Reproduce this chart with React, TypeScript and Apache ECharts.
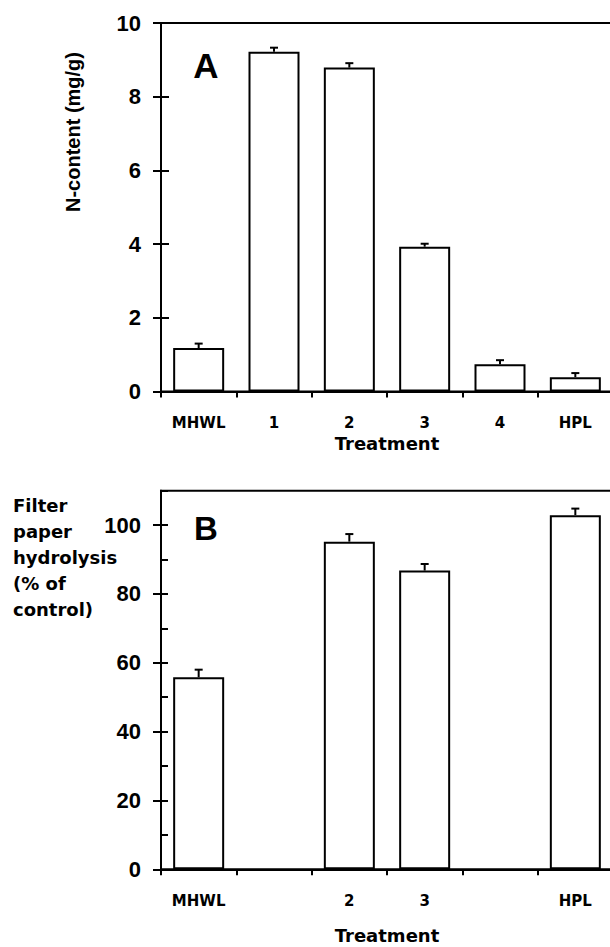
import React, { useEffect, useRef } from "react";
import * as echarts from "echarts";

const categories = ["MHWL", "1", "2", "3", "4", "HPL"];
const nContent = [1.18, 9.22, 8.79, 3.93, 0.74, 0.39];
const nContentErr = [0.12, 0.11, 0.12, 0.08, 0.11, 0.11];
const hydrolysis: (number | null)[] = [55.8, null, 95.2, 86.8, null, 102.9];
const hydrolysisErr: (number | null)[] = [2.2, null, 2.2, 1.9, null, 1.9];
const aTicks = [0, 2, 4, 6, 8, 10];
const bMajorTicks = [0, 20, 40, 60, 80, 100];

const labelFont = "DejaVu Sans";
const numFont = "Liberation Sans";

function errData(vals: (number | null)[], errs: (number | null)[]) {
  const out: number[][] = [];
  vals.forEach((v, i) => {
    if (v != null && errs[i] != null) out.push([i, v, errs[i] as number]);
  });
  return out;
}

const renderErr = (params: any, api: any) => {
  const i = api.value(0);
  const v = api.value(1);
  const e = api.value(2);
  const base = api.coord([i, v]);
  const top = api.coord([i, v + e]);
  return {
    type: "group",
    children: [
      { type: "line", shape: { x1: base[0], y1: base[1], x2: base[0], y2: top[1] }, style: { stroke: "#000", lineWidth: 2 } },
      { type: "line", shape: { x1: base[0] - 4, y1: top[1], x2: base[0] + 4, y2: top[1] }, style: { stroke: "#000", lineWidth: 2 } },
    ],
  };
};

export default function App() {
  const ref = useRef<HTMLDivElement>(null);
  useEffect(() => {
    if (!ref.current) return;
    const chart = echarts.init(ref.current, null, { renderer: "svg" });
    const axisLine = { show: true, lineStyle: { color: "#000", width: 2 } };
    const xLabel = { fontFamily: labelFont, fontWeight: "bold", fontSize: 15, lineHeight: 14, color: "#000", margin: 24 };
    const xName = { fontFamily: labelFont, fontWeight: "bold", fontSize: 18, lineHeight: 16, color: "#000" };
    const yLabel = { fontFamily: numFont, fontWeight: "bold", fontSize: 22, color: "#000", margin: 20 };
    const gridBase = { left: 161, width: 452, show: true, borderColor: "#000", borderWidth: 2, backgroundColor: "transparent", containLabel: false, outerBoundsMode: "none" };
    chart.setOption({
      animation: false,
      grid: [
        { ...gridBase, top: 23, height: 368.5 },
        { ...gridBase, top: 490.7, height: 378.6 },
      ],
      xAxis: [
        {
          gridIndex: 0, type: "category", data: categories, axisLine,
          axisTick: { show: true, length: 6, lineStyle: { color: "#000", width: 2 } },
          axisLabel: xLabel,
          name: "Treatment", nameLocation: "middle", nameGap: 44, nameTextStyle: xName,
        },
        {
          gridIndex: 1, type: "category", data: categories, axisLine,
          axisTick: { show: true, length: 6, lineStyle: { color: "#000", width: 2 } },
          axisLabel: { ...xLabel, margin: 25, formatter: (v: string, i: number) => (hydrolysis[i] == null ? "" : v) },
          name: "Treatment", nameLocation: "middle", nameGap: 58, nameTextStyle: xName,
        },
      ],
      yAxis: [
        {
          gridIndex: 0, type: "value", min: 0, max: 10, interval: 2, position: "left", offset: 0,
          axisLine, splitLine: { show: false },
          axisTick: { show: true, length: 8, lineStyle: { color: "#000", width: 2 }, customValues: aTicks },
          axisLabel: { ...yLabel, customValues: aTicks },
        },
        {
          gridIndex: 0, type: "value", min: 0, max: 10, interval: 2, position: "left", offset: 0,
          axisLine, splitLine: { show: false },
          axisTick: { show: true, inside: true, length: 8, lineStyle: { color: "#000", width: 2 } },
          axisLabel: { show: false },
        },
        {
          gridIndex: 1, type: "value", min: 0, max: 110, interval: 10, position: "left", offset: 0,
          axisLine, splitLine: { show: false },
          axisTick: { show: true, length: 8, lineStyle: { color: "#000", width: 2 }, customValues: bMajorTicks },
          axisLabel: { ...yLabel, customValues: bMajorTicks },
        },
        {
          gridIndex: 1, type: "value", min: 0, max: 110, interval: 10, position: "left", offset: 0,
          axisLine, splitLine: { show: false },
          axisTick: { show: true, inside: true, length: 7, lineStyle: { color: "#000", width: 2 } },
          axisLabel: { show: false },
        },
      ],
      series: [
        {
          type: "bar", xAxisIndex: 0, yAxisIndex: 0, data: nContent, barWidth: 51,
          itemStyle: { color: "#fff", borderColor: "#000", borderWidth: 2 },
        },
        {
          type: "custom", xAxisIndex: 0, yAxisIndex: 0, data: errData(nContent, nContentErr),
          encode: { x: 0, y: 1 }, renderItem: renderErr, z: 5,
        },
        {
          type: "bar", xAxisIndex: 1, yAxisIndex: 2, data: hydrolysis, barWidth: 51,
          itemStyle: { color: "#fff", borderColor: "#000", borderWidth: 2 },
        },
        {
          type: "custom", xAxisIndex: 1, yAxisIndex: 2, data: errData(hydrolysis, hydrolysisErr),
          encode: { x: 0, y: 1 }, renderItem: renderErr, z: 5,
        },
      ],
      graphic: [
        {
          type: "text", x: 206, y: 65,
          style: { text: "A", fontFamily: numFont, fontWeight: "bold", fontSize: 35, fill: "#000", textAlign: "center", textVerticalAlign: "middle" },
        },
        {
          type: "text", x: 206, y: 528,
          style: { text: "B", fontFamily: numFont, fontWeight: "bold", fontSize: 33, fill: "#000", textAlign: "center", textVerticalAlign: "middle" },
        },
        {
          type: "text", x: 73, y: 132, rotation: Math.PI / 2,
          style: { text: "N-content (mg/g)", fontFamily: numFont, fontWeight: "bold", fontSize: 20, fill: "#000", textAlign: "center", textVerticalAlign: "middle" },
        },
        {
          type: "text", x: 13, y: 492,
          style: {
            text: "Filter\npaper\nhydrolysis\n(% of\ncontrol)",
            fontFamily: labelFont, fontWeight: "bold", fontSize: 18, lineHeight: 26, fill: "#000",
            textAlign: "left", textVerticalAlign: "top",
          },
        },
      ],
    });
    return () => chart.dispose();
  }, []);
  return <div ref={ref} style={{ position: "fixed", left: 0, top: 0, width: 610, height: 947, background: "#fff" }} />;
}
